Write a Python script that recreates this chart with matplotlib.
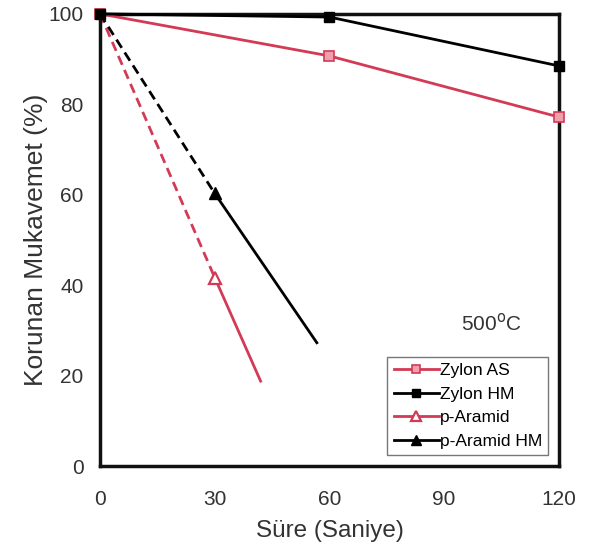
"""
Korunan mukavemet - 500C isil yaslanma grafigi
"""

import matplotlib
matplotlib.use('Agg')
import matplotlib.pyplot as plt

plt.rcParams['font.family'] = ['Liberation Sans', 'DejaVu Sans']

RED = '#d23a55'

# veriler
zylon_as_t = [0, 60, 120]
zylon_as_y = [100, 90.7, 77.2]

zylon_hm_t = [0, 60, 120]
zylon_hm_y = [100, 99.3, 88.5]

# p-Aramid: 0 -> 30 kesikli, 30 -> sonrasi duz
aramid_dash_t = [0, 30]
aramid_dash_y = [100, 41.7]
aramid_solid_t = [30, 42]
aramid_solid_y = [41.7, 18.8]

aramid_hm_dash_t = [0, 30]
aramid_hm_dash_y = [100, 60.3]
aramid_hm_solid_t = [30, 56.7]
aramid_hm_solid_y = [60.3, 27.3]

x_ticks = [0, 30, 60, 90, 120]
y_ticks = [0, 20, 40, 60, 80, 100]


def main():
    fig = plt.figure(figsize=(5.92, 5.55), dpi=100)
    ax = fig.add_axes([0.169, 0.160, 0.775, 0.815])

    # dashed / solid extension lines (no legend)
    ax.plot(aramid_dash_t, aramid_dash_y, color=RED, lw=2, ls=(0, (3.5, 2)))
    ax.plot(aramid_solid_t, aramid_solid_y, color=RED, lw=2)
    ax.plot(aramid_hm_dash_t, aramid_hm_dash_y, color='black', lw=2, ls=(0, (3.5, 2)))
    ax.plot(aramid_hm_solid_t, aramid_hm_solid_y, color='black', lw=2)

    ax.plot(zylon_as_t, zylon_as_y, color=RED, lw=2, marker='s', ms=6.5,
            mfc='#f0a0ad', mec=RED, mew=1.2, label='Zylon AS', clip_on=False, zorder=4)
    ax.plot(zylon_hm_t, zylon_hm_y, color='black', lw=2, marker='s', ms=7.5,
            mfc='black', mec='black', label='Zylon HM', clip_on=False, zorder=5)

    # markers only for aramid points (legend handles carry a line)
    ax.plot([30], [41.7], color=RED, lw=2, marker='^', ms=9, mfc='white',
            mec=RED, mew=1.6, label='p-Aramid', zorder=4)
    ax.plot([30], [60.3], color='black', lw=2, marker='^', ms=8,
            mfc='black', mec='black', label='p-Aramid HM', zorder=4)

    ax.set_xlim(0, 120)
    ax.set_ylim(0, 100)
    ax.set_xticks(x_ticks)
    ax.set_yticks(y_ticks)
    ax.tick_params(length=0, labelsize=15, labelcolor='#333333')
    ax.tick_params(axis='x', pad=17)
    ax.tick_params(axis='y', pad=12)

    for sp in ax.spines.values():
        sp.set_linewidth(2.5)
        sp.set_color('#111111')

    ax.set_xlabel('Süre (Saniye)', fontsize=17.5, color='#333333', labelpad=8)
    ax.set_ylabel('Korunan Mukavemet (%)', fontsize=19, color='#333333', labelpad=0)

    ax.text(0.919, 0.315, '500$^{\\mathrm{o}}$C', transform=ax.transAxes,
            fontsize=15, color='#333333', ha='right', va='center')

    leg = ax.legend(loc='lower right', bbox_to_anchor=(0.976, 0.024), fontsize=12.5,
                    frameon=True, fancybox=False, edgecolor='#555555',
                    handlelength=2.6, handletextpad=0.05, borderpad=0.35,
                    labelspacing=0.5, borderaxespad=0.0, markerscale=0.85)
    leg.get_frame().set_linewidth(1.0)

    fig.savefig('out.png', dpi=100)


if __name__ == "__main__":
    main()
